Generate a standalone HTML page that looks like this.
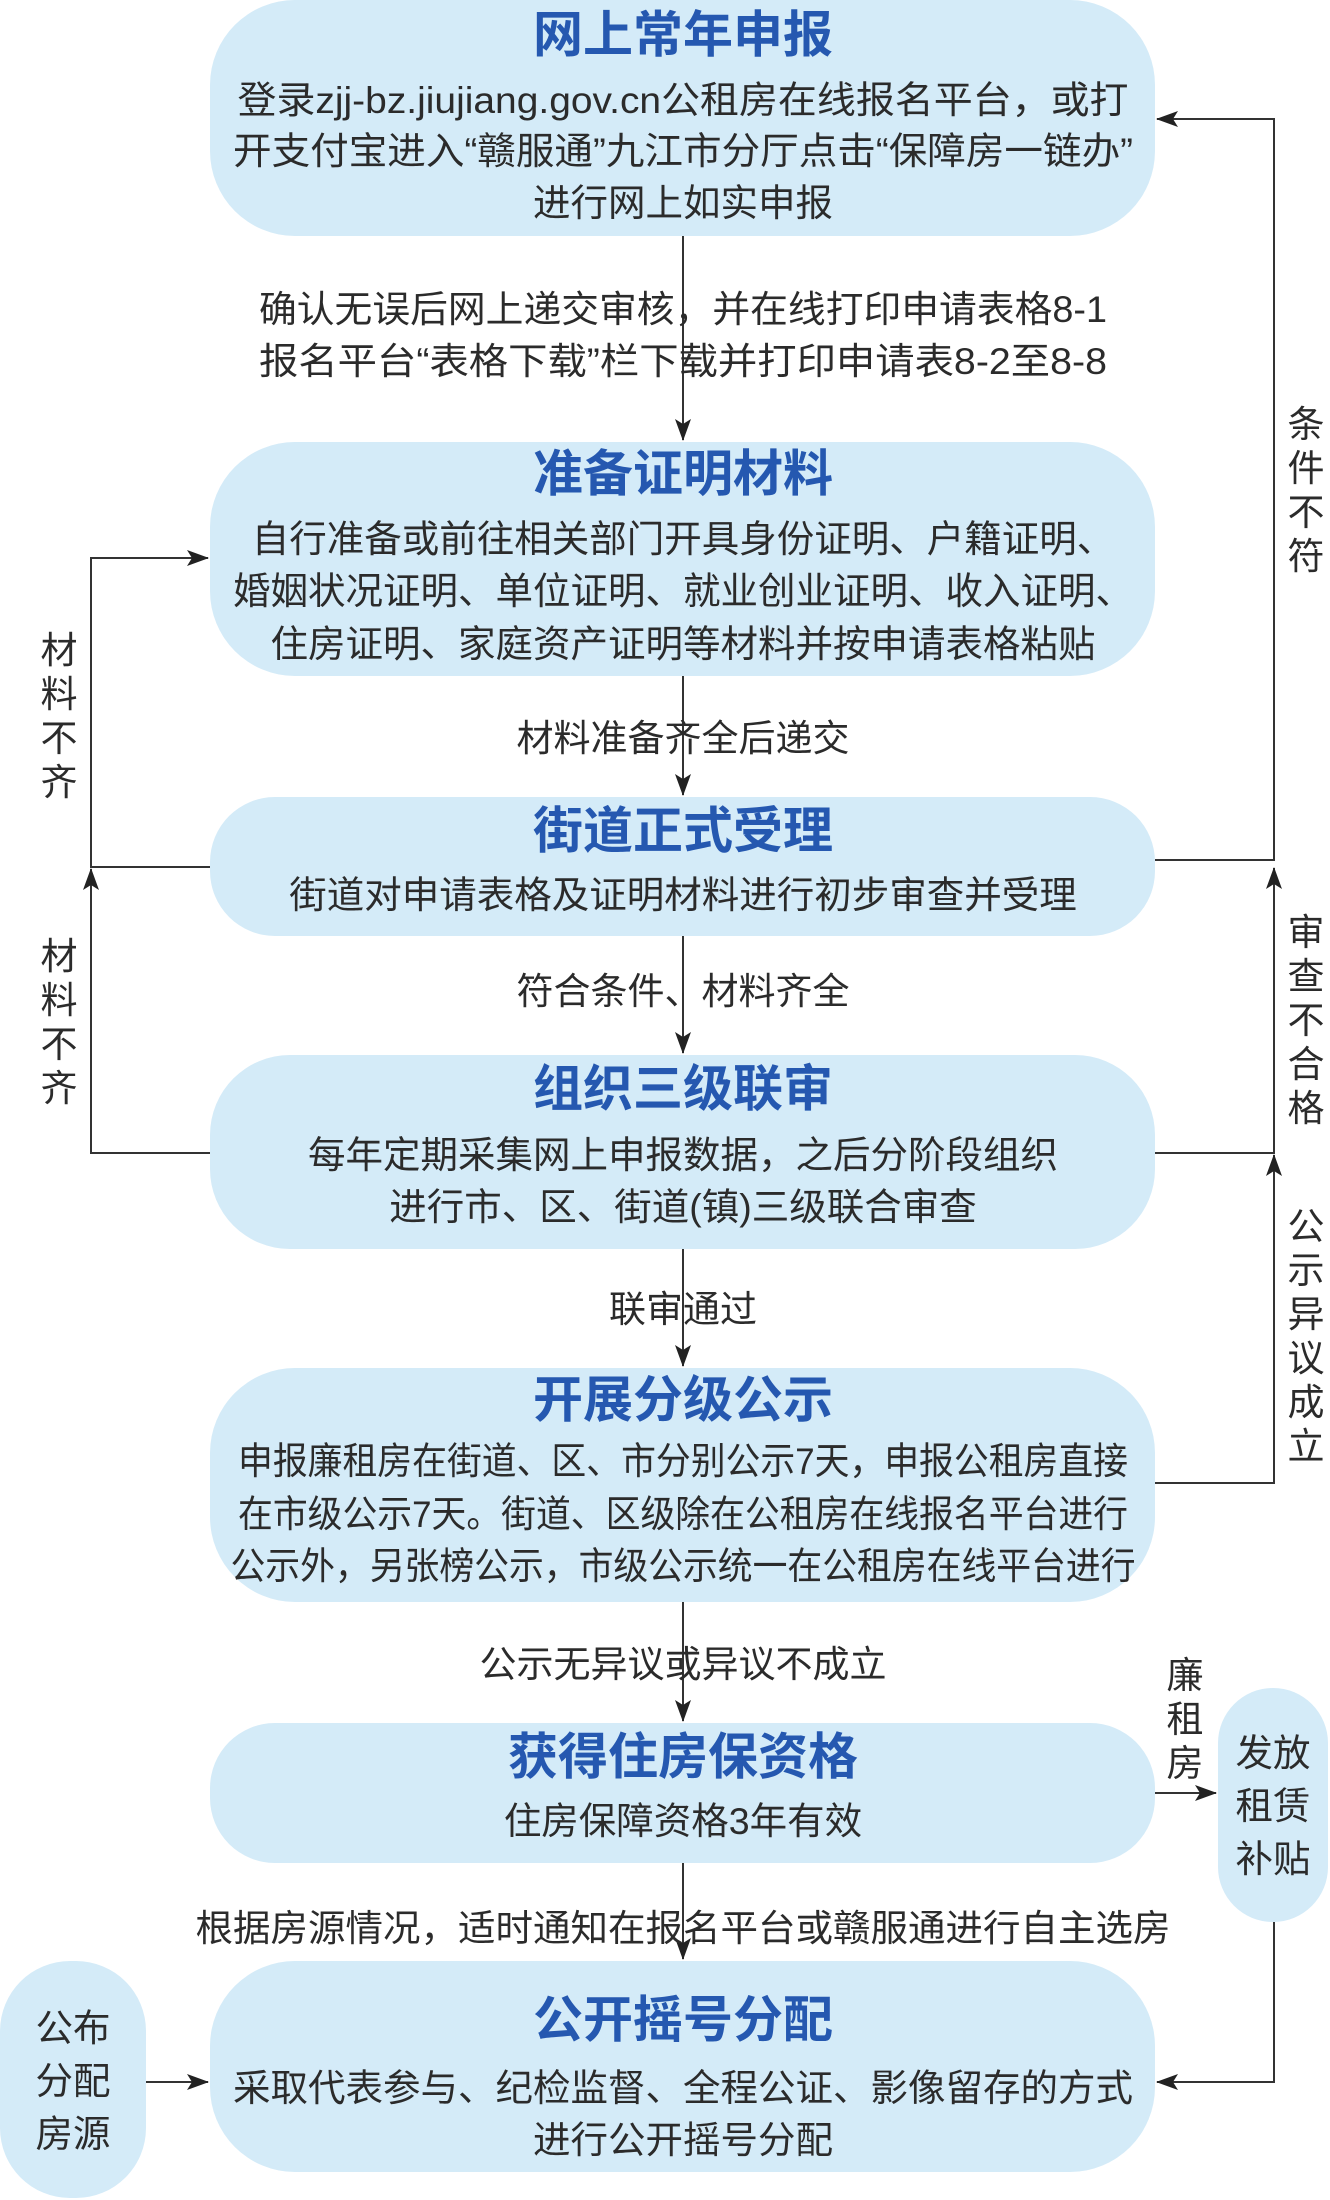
<!DOCTYPE html>
<html><head><meta charset="utf-8"><style>
html,body{margin:0;padding:0;background:#fff}
svg{display:block}
.t{font-family:"Liberation Sans","Noto Sans CJK SC",sans-serif;font-weight:bold;font-size:50px;fill:#2558b0;text-anchor:middle}
.b{font-family:"Liberation Sans","Noto Sans CJK SC",sans-serif;font-size:37.5px;fill:#2b2b2b;text-anchor:middle}
.l{font-family:"Liberation Sans","Noto Sans CJK SC",sans-serif;font-size:37px;fill:#2b2b2b;text-anchor:middle}
.bx{fill:#d4ebf8}
.ln{stroke:#333;stroke-width:2;fill:none}
</style></head><body>
<svg width="1330" height="2200" viewBox="0 0 1330 2200">
<defs>
<marker id="a2" markerWidth="22" markerHeight="22" refX="21" refY="8" orient="auto" markerUnits="userSpaceOnUse"><path d="M0,0 L22,8 L0,16 L5,8 z" fill="#222"/></marker></defs>
<rect class="bx" x="210" y="0" width="945" height="236" rx="85"/>
<rect class="bx" x="210" y="442" width="945" height="234" rx="85"/>
<rect class="bx" x="210" y="797" width="945" height="139" rx="65"/>
<rect class="bx" x="210" y="1055" width="945" height="194" rx="80"/>
<rect class="bx" x="210" y="1368" width="945" height="234" rx="85"/>
<rect class="bx" x="210" y="1723" width="945" height="140" rx="65"/>
<rect class="bx" x="210" y="1961" width="945" height="211" rx="85"/>
<rect class="bx" x="0" y="1961" width="146" height="237" rx="70"/>
<rect class="bx" x="1218" y="1688" width="110" height="234" rx="55"/>
<line class="ln" x1="683" y1="236" x2="683" y2="440" marker-end="url(#a2)"/>
<line class="ln" x1="683" y1="676" x2="683" y2="795" marker-end="url(#a2)"/>
<line class="ln" x1="683" y1="936" x2="683" y2="1053" marker-end="url(#a2)"/>
<line class="ln" x1="683" y1="1249" x2="683" y2="1366" marker-end="url(#a2)"/>
<line class="ln" x1="683" y1="1602" x2="683" y2="1721" marker-end="url(#a2)"/>
<line class="ln" x1="683" y1="1863" x2="683" y2="1959" marker-end="url(#a2)"/>
<polyline class="ln" points="1155,860 1274,860 1274,119 1157,119" marker-end="url(#a2)"/>
<polyline class="ln" points="1155,1153 1274,1153 1274,868" marker-end="url(#a2)"/>
<polyline class="ln" points="1155,1483 1274,1483 1274,1155" marker-end="url(#a2)"/>
<polyline class="ln" points="210,867 91,867 91,558 208,558" marker-end="url(#a2)"/>
<polyline class="ln" points="210,1153 91,1153 91,869" marker-end="url(#a2)"/>
<line class="ln" x1="1155" y1="1793" x2="1216" y2="1793" marker-end="url(#a2)"/>
<polyline class="ln" points="1274,1922 1274,2082 1157,2082" marker-end="url(#a2)"/>
<line class="ln" x1="146" y1="2082" x2="208" y2="2082" marker-end="url(#a2)"/>

<text class="t" x="683" y="52">网上常年申报</text>
<text class="b" x="683" y="113" textLength="891" lengthAdjust="spacingAndGlyphs">登录zjj-bz.jiujiang.gov.cn公租房在线报名平台，或打</text>
<text class="b" x="683" y="164" textLength="900" lengthAdjust="spacingAndGlyphs">开支付宝进入“赣服通”九江市分厅点击“保障房一链办”</text>
<text class="b" x="683" y="216">进行网上如实申报</text>
<text class="l" x="683" y="322" textLength="848" lengthAdjust="spacingAndGlyphs">确认无误后网上递交审核，并在线打印申请表格8-1</text>
<text class="l" x="683" y="374" textLength="848" lengthAdjust="spacingAndGlyphs">报名平台“表格下载”栏下载并打印申请表8-2至8-8</text>

<text class="t" x="683" y="491">准备证明材料</text>
<text class="b" x="683" y="552">自行准备或前往相关部门开具身份证明、户籍证明、</text>
<text class="b" x="683" y="604">婚姻状况证明、单位证明、就业创业证明、收入证明、</text>
<text class="b" x="683" y="657">住房证明、家庭资产证明等材料并按申请表格粘贴</text>
<text class="l" x="683" y="751">材料准备齐全后递交</text>

<text class="t" x="683" y="848">街道正式受理</text>
<text class="b" x="683" y="908">街道对申请表格及证明材料进行初步审查并受理</text>
<text class="l" x="683" y="1004">符合条件、材料齐全</text>

<text class="t" x="683" y="1106">组织三级联审</text>
<text class="b" x="683" y="1168">每年定期采集网上申报数据，之后分阶段组织</text>
<text class="b" x="683" y="1220">进行市、区、街道(镇)三级联合审查</text>
<text class="l" x="683" y="1322">联审通过</text>

<text class="t" x="683" y="1417">开展分级公示</text>
<text class="b" x="683" y="1474" textLength="890" lengthAdjust="spacingAndGlyphs">申报廉租房在街道、区、市分别公示7天，申报公租房直接</text>
<text class="b" x="683" y="1527" textLength="890" lengthAdjust="spacingAndGlyphs">在市级公示7天。街道、区级除在公租房在线报名平台进行</text>
<text class="b" x="683" y="1579" textLength="905" lengthAdjust="spacingAndGlyphs">公示外，另张榜公示，市级公示统一在公租房在线平台进行</text>
<text class="l" x="683" y="1677">公示无异议或异议不成立</text>

<text class="t" x="683" y="1774">获得住房保资格</text>
<text class="b" x="683" y="1834">住房保障资格3年有效</text>
<text class="l" x="683" y="1941" textLength="975" lengthAdjust="spacingAndGlyphs">根据房源情况，适时通知在报名平台或赣服通进行自主选房</text>

<text class="t" x="683" y="2037">公开摇号分配</text>
<text class="b" x="683" y="2101">采取代表参与、纪检监督、全程公证、影像留存的方式</text>
<text class="b" x="683" y="2153">进行公开摇号分配</text>

<text class="b" x="73" y="2041">公布</text>
<text class="b" x="73" y="2094">分配</text>
<text class="b" x="73" y="2147">房源</text>
<text class="b" x="1273" y="1766">发放</text>
<text class="b" x="1273" y="1819">租赁</text>
<text class="b" x="1273" y="1872">补贴</text>

<text class="l" x="1306" y="437">条</text><text class="l" x="1306" y="481">件</text><text class="l" x="1306" y="525">不</text><text class="l" x="1306" y="569">符</text>
<text class="l" x="1306" y="945">审</text><text class="l" x="1306" y="989">查</text><text class="l" x="1306" y="1033">不</text><text class="l" x="1306" y="1077">合</text><text class="l" x="1306" y="1121">格</text>
<text class="l" x="1306" y="1239">公</text><text class="l" x="1306" y="1283">示</text><text class="l" x="1306" y="1327">异</text><text class="l" x="1306" y="1371">议</text><text class="l" x="1306" y="1415">成</text><text class="l" x="1306" y="1459">立</text>
<text class="l" x="59" y="663">材</text><text class="l" x="59" y="707">料</text><text class="l" x="59" y="751">不</text><text class="l" x="59" y="795">齐</text>
<text class="l" x="59" y="969">材</text><text class="l" x="59" y="1013">料</text><text class="l" x="59" y="1057">不</text><text class="l" x="59" y="1101">齐</text>
<text class="l" x="1185" y="1688">廉</text><text class="l" x="1185" y="1732">租</text><text class="l" x="1185" y="1776">房</text>
</svg>
</body></html>
